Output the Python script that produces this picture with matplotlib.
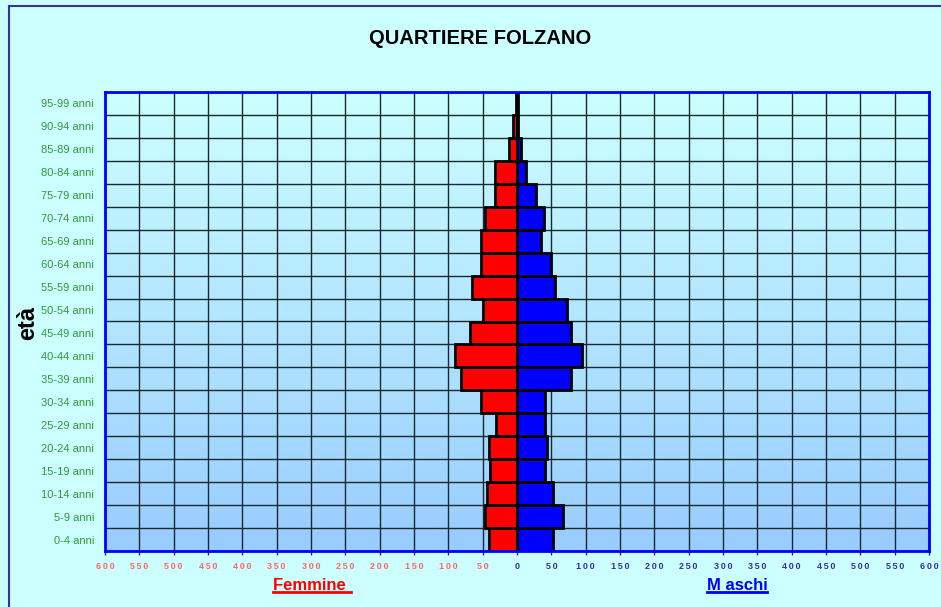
import numpy as np
from matplotlib import pyplot as plt
from matplotlib.patches import Rectangle
from matplotlib.lines import Line2D

plt.rcParams['font.family'] = ['Liberation Sans', 'DejaVu Sans']

age_groups = ['0-4 anni', '5-9 anni', '10-14 anni', '15-19 anni', '20-24 anni',
              '25-29 anni', '30-34 anni', '35-39 anni', '40-44 anni', '45-49 anni',
              '50-54 anni', '55-59 anni', '60-64 anni', '65-69 anni', '70-74 anni',
              '75-79 anni', '80-84 anni', '85-89 anni', '90-94 anni', '95-99 anni']
femmine = [41, 46, 43, 40, 41, 31, 52, 81, 90, 69,
           50, 66, 52, 52, 46, 32, 32, 11, 6, 2]
maschi = [53, 67, 53, 41, 44, 41, 41, 79, 95, 79,
          73, 56, 50, 35, 39, 27, 13, 6, 1, 1]
ticks = list(range(-600, 601, 50))

BG = '#CCFFFF'

fig = plt.figure(figsize=(9.41, 6.07), dpi=100, facecolor=BG)
ax = fig.add_axes([105 / 941, 1 - 551 / 607, 824 / 941, 459 / 607])

# outer frame
fig.patches.append(Rectangle((9 / 941, -0.1), 1.2, 1.1 - 6 / 607,
                             transform=fig.transFigure, fill=False,
                             edgecolor='#333399', lw=1.5))

n = len(age_groups)
y = np.arange(n)

# gradient background of plot area
grad = np.linspace(0, 1, 256).reshape(-1, 1)
top = np.array([0xCC, 0xFF, 0xFF]) / 255
bot = np.array([0x99, 0xCC, 0xFF]) / 255
img = top + (bot - top) * grad[:, :, None]
ax.imshow(img, extent=[-600, 600, -0.5, n - 0.5], aspect='auto', zorder=0)

# grid
for t in ticks:
    ax.axvline(t, color='#1a2a2a', lw=1, zorder=1)
for b in np.arange(-0.5, n, 1):
    ax.axhline(b, color='#1a2a2a', lw=1, zorder=1)

ax.barh(y, [-v for v in femmine], height=1.0, color='#FF0000',
        edgecolor='black', lw=2, zorder=3)
ax.barh(y, maschi, height=1.0, color='#0000FF',
        edgecolor='black', lw=2, zorder=3)

ax.set_xlim(-600, 600)
ax.set_ylim(-0.5, n - 0.5)
ax.set_yticks(y)
ax.set_yticklabels(age_groups, color='#339933', fontsize=8)
ax.tick_params(axis='y', length=0, pad=8)
ax.set_xticks(ticks)
ax.set_xticklabels(['\u2009'.join(str(abs(t))) for t in ticks], fontsize=6.5,
                   fontweight='bold')
for t, lab in zip(ticks, ax.get_xticklabels()):
    lab.set_color('#FF6666' if t < 0 else '#333399')
ax.tick_params(axis='x', length=3, width=1, color='#333333', pad=5)

for s in ax.spines.values():
    s.set_color('#0000FF')
    s.set_linewidth(2)
    s.set_zorder(4)

fig.text(480 / 941, 1 - 38 / 607, 'QUARTIERE FOLZANO', ha='center',
         va='center', fontsize=14.5, fontweight='bold')
fig.text(28 / 941, 1 - 323 / 607, 'età', rotation=90, ha='center',
         va='center', fontsize=17, fontweight='bold')

t_f = fig.text(312 / 941, 1 - 586 / 607, 'Femmine ', ha='center',
               va='center', fontsize=12, fontweight='bold', color='#FF0000')
t_m = fig.text(737 / 941, 1 - 586 / 607, 'M aschi', ha='center',
               va='center', fontsize=12, fontweight='bold', color='#0000FF')

fig.canvas.draw()
r = fig.canvas.get_renderer()
inv = fig.transFigure.inverted()
for t, c in ((t_f, '#FF0000'), (t_m, '#0000FF')):
    bb = t.get_window_extent(r)
    (x0, y0), (x1, _) = inv.transform([(bb.x0, bb.y0), (bb.x1, bb.y1)])
    fig.add_artist(Line2D([x0, x1], [y0 + 0.003, y0 + 0.003],
                          transform=fig.transFigure, color=c, lw=2))

fig.savefig('out.png', dpi=100, facecolor=BG)
